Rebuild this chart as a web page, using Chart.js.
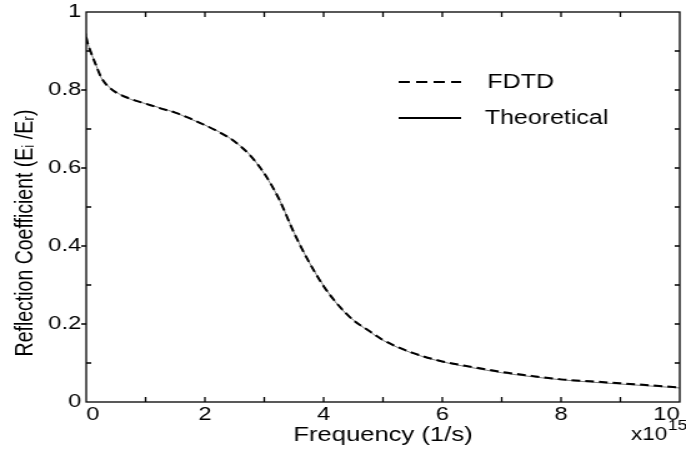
<!DOCTYPE html>
<html>
<head>
<meta charset="utf-8">
<script src="https://cdn.jsdelivr.net/npm/chart.js@4.4.1/dist/chart.umd.min.js"></script>
<style>
  html, body { margin: 0; padding: 0; background: #fff; overflow: hidden; }
  /* the figure is drawn narrow and widened, like the scanned plot */
  #chart { display: block; transform-origin: 0 0; transform: scaleX(1.2495); }
</style>
</head>
<body>
<canvas id="chart" width="549" height="449"></canvas>
<script>
// frequency in units of 1e15 1/s
const freq = [0, 0.02, 0.07, 0.15, 0.25, 0.35, 0.5, 0.75, 1.0, 1.25, 1.5, 1.75, 2.0, 2.25, 2.5, 2.75,
  3.0, 3.25, 3.5, 3.75, 4.0, 4.25, 4.5, 4.75, 5.0, 5.5, 6.0, 6.5, 7.0, 7.5, 8.0, 8.5, 9.0, 9.5, 10.0];

const theoretical = [0.945, 0.925, 0.9, 0.87, 0.832, 0.813, 0.795, 0.776, 0.765, 0.754, 0.742, 0.726,
  0.71, 0.692, 0.668, 0.635, 0.585, 0.52, 0.435, 0.36, 0.298, 0.247, 0.21, 0.183, 0.158, 0.125, 0.103,
  0.088, 0.075, 0.065, 0.057, 0.051, 0.046, 0.041, 0.036];

const fdtd = [0.935, 0.922, 0.9, 0.869, 0.833, 0.812, 0.794, 0.777, 0.765, 0.753, 0.742, 0.727,
  0.71, 0.691, 0.668, 0.634, 0.586, 0.52, 0.434, 0.36, 0.297, 0.248, 0.21, 0.184, 0.159, 0.126, 0.104,
  0.09, 0.077, 0.067, 0.058, 0.053, 0.048, 0.043, 0.037];

const xTickStep = 1;   // every second tick is labelled
const yTickStep = 0.1;

const FONT = 'Liberation Sans, Arial, sans-serif';
const INK = '#000';

// box round the plot, MATLAB-style tick marks, legend, y title and the x10^15 factor
const framePlugin = {
  id: 'frame',
  afterDraw(chart) {
    const { ctx, chartArea: a, scales: { x, y } } = chart;
    ctx.save();
    ctx.strokeStyle = INK;
    ctx.lineWidth = 1.3;
    ctx.strokeRect(a.left, a.top, a.right - a.left, a.bottom - a.top);

    ctx.beginPath();
    x.ticks.forEach((t) => {
      if (t.value <= x.min || t.value >= x.max) return;
      const px = x.getPixelForValue(t.value);
      ctx.moveTo(px, a.bottom); ctx.lineTo(px, a.bottom - 5);
      ctx.moveTo(px, a.top); ctx.lineTo(px, a.top + 5);
    });
    y.ticks.forEach((t) => {
      if (t.value <= y.min || t.value >= y.max) return;
      const py = y.getPixelForValue(t.value);
      const major = Math.round(t.value * 10) % 2 === 0;
      ctx.moveTo(a.left, py); ctx.lineTo(major ? a.left - 4 : a.left + 4, py);
      ctx.moveTo(a.right, py); ctx.lineTo(a.right - 4, py);
    });
    ctx.stroke();

    // legend
    ctx.fillStyle = INK;
    ctx.font = `20px ${FONT}`;
    ctx.textBaseline = 'middle';
    const rows = [82, 118];
    chart.data.datasets.forEach((ds, i) => {
      ctx.beginPath();
      ctx.lineWidth = 2;
      ctx.strokeStyle = INK;
      ctx.setLineDash(ds.borderDash && ds.borderDash.length ? [9, 5] : []);
      ctx.moveTo(319, rows[i]);
      ctx.lineTo(369, rows[i]);
      ctx.stroke();
      ctx.setLineDash([]);
      ctx.fillText(ds.label, i === 0 ? 390 : 388, rows[i]);
    });

    // y axis title
    ctx.save();
    ctx.translate(26, 233);
    ctx.rotate(-Math.PI / 2);
    ctx.textAlign = 'center';
    ctx.textBaseline = 'alphabetic';
    ctx.font = `19.5px ${FONT}`;
    ctx.fillText('Reflection Coefficient (E\u1D62 /E\u1D63)', 0, 0);
    ctx.restore();

    // exponent of the frequency axis
    ctx.textBaseline = 'alphabetic';
    ctx.textAlign = 'left';
    ctx.font = `18px ${FONT}`;
    ctx.fillText('x10', 505, 440);
    const w = ctx.measureText('x10').width;
    ctx.font = `14px ${FONT}`;
    ctx.fillText('15', 505 + w + 0.5, 430);
    ctx.restore();
  },
};

new Chart(document.getElementById('chart').getContext('2d'), {
  type: 'line',
  data: {
    datasets: [
      {
        label: 'FDTD',
        data: freq.map((f, i) => ({ x: f, y: fdtd[i] })),
        borderColor: '#000',
        borderWidth: 2,
        borderDash: [7, 4],
        pointRadius: 0,
        fill: false,
        cubicInterpolationMode: 'monotone',
      },
      {
        label: 'Theoretical',
        data: freq.map((f, i) => ({ x: f, y: theoretical[i] })),
        borderColor: '#555',
        borderWidth: 0.8,
        pointRadius: 0,
        fill: false,
        cubicInterpolationMode: 'monotone',
      },
    ],
  },
  options: {
    responsive: false,
    animation: false,
    devicePixelRatio: 1,
    layout: { padding: { top: 12, right: 5, left: 0, bottom: 0 } },
    plugins: {
      legend: { display: false },
      tooltip: { enabled: false },
    },
    scales: {
      x: {
        type: 'linear',
        min: 0,
        max: 10,
        grid: { display: false, drawTicks: false },
        border: { display: false },
        ticks: {
          stepSize: xTickStep,
          padding: 1,
          align: 'inner',
          color: INK,
          font: { family: FONT, size: 19 },
          maxRotation: 0,
          autoSkip: false,
          callback: (v) => (v % 2 === 0 ? String(v) : ''),
        },
        title: {
          display: true,
          text: 'Frequency (1/s)',
          color: INK,
          font: { family: FONT, size: 20.5 },
          padding: { top: 0, bottom: 1 },
        },
        afterFit(scale) {
          scale.height = 47;
          scale.paddingLeft = 0;
          scale.paddingRight = 0;
        },
      },
      y: {
        min: 0,
        max: 1,
        grid: { display: false, drawTicks: false },
        border: { display: false },
        ticks: {
          stepSize: yTickStep,
          padding: 4,
          color: INK,
          font: { family: FONT, size: 19 },
          autoSkip: false,
          callback: (v) => (Math.round(v * 10) % 2 === 0 ? String(+v.toFixed(1)) : ''),
        },
        afterFit(scale) {
          scale.width = 69;
          scale.paddingTop = 0;
          scale.paddingBottom = 0;
        },
      },
    },
  },
  plugins: [framePlugin],
});
</script>
</body>
</html>
